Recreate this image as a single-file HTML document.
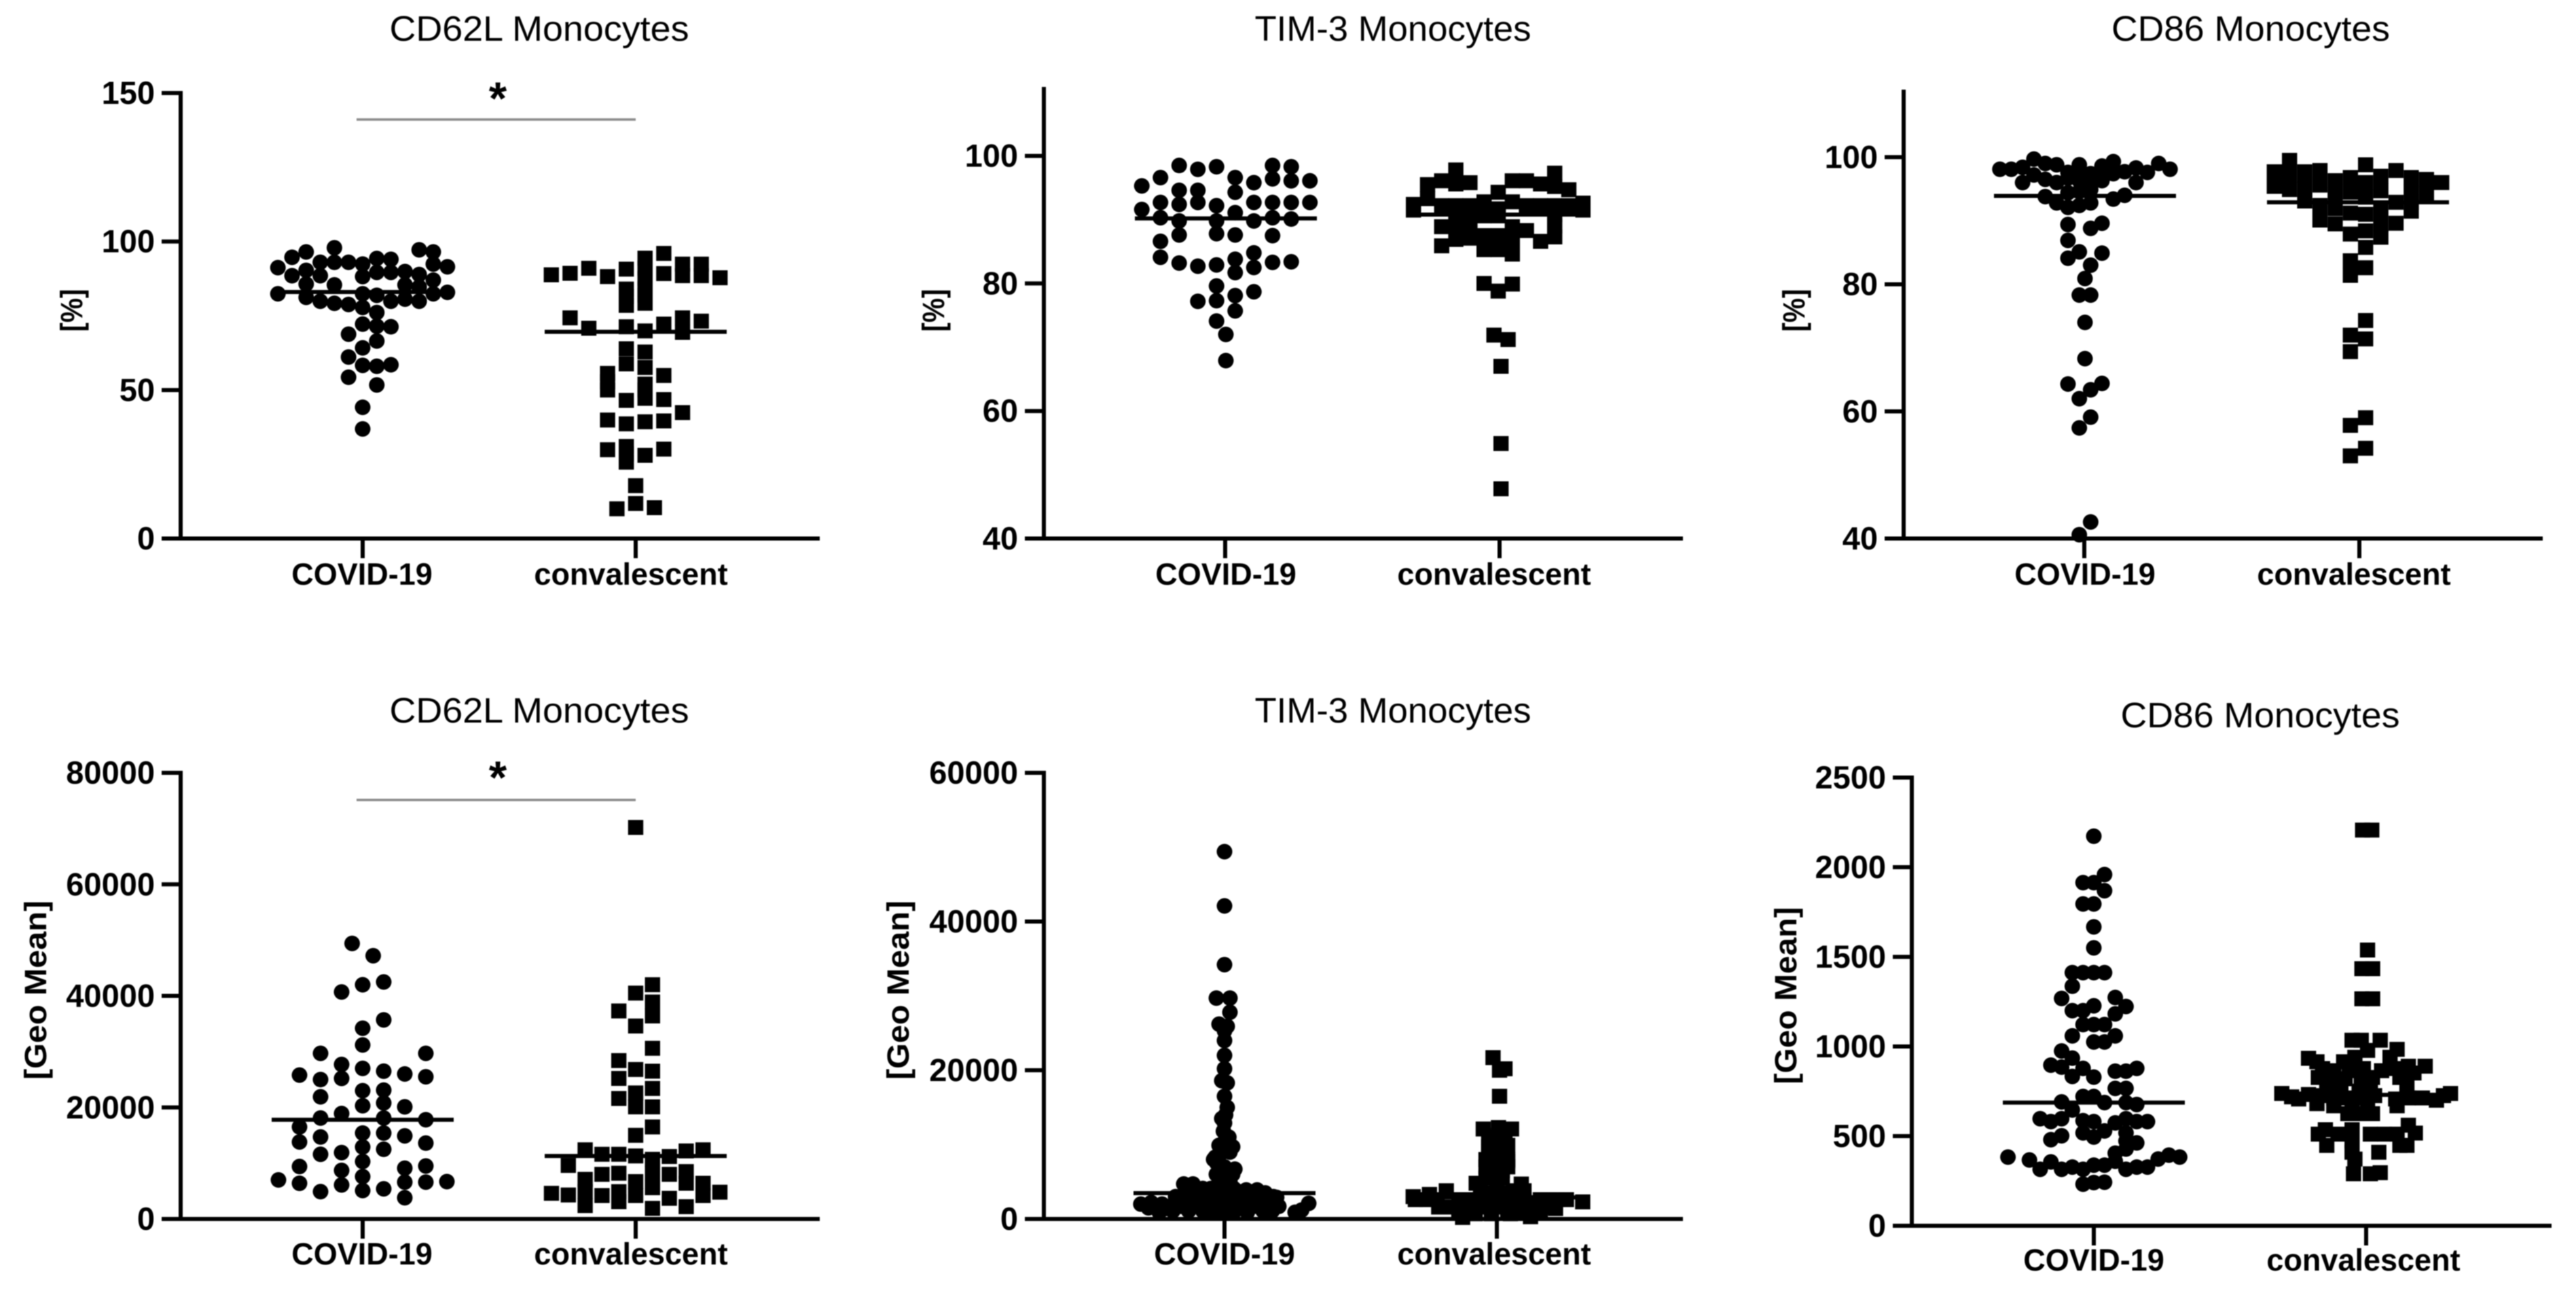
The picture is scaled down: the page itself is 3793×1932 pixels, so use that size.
<!DOCTYPE html>
<html lang="en">
<head>
<meta charset="utf-8">
<title>Monocyte marker dot plots</title>
<style>
  html, body { margin: 0; padding: 0; background: #fff; }
  svg { display: block; filter: blur(0.9px); }
  text { font-family: "Liberation Sans", sans-serif; fill: #000; }
</style>
</head>
<body>
<svg id="figure" xmlns="http://www.w3.org/2000/svg" width="3793" height="1932" viewBox="0 0 3793 1932"></svg>
<script>
const categories = ['COVID-19', 'convalescent'];

/* Panel 1: CD62L % */
const p1Ticks = [0, 50, 100, 150];
const p1Medians = [83, 69.6];
const p1CovidValues = [91.2,82.4, 94.7,88.5, 96.5,90.3,85.7,81.2, 93,88.5,79.9, 97.9,93,85.4,79.2, 93,78.8,68.8,61.1,54.3, 92.4,88.2,82.4,77.8,72.2,64.2,58.3,44.2,36.9, 94.3,89.6,81.9,76.1,71.5,66.5,58,51.7, 94,89.6,79.9,71.3,58.5, 89.9,85.4,80.6, 97.2,88.9,84.7,79.9, 96.5,92.4,87,82.4, 91.5,82.9];
const p1CovidLanes = [-6,-6, -5,-5, -4,-4,-4,-4, -3,-3,-3, -2,-2,-2,-2, -1,-1,-1,-1,-1, 0,0,0,0,0,0,0,0,0, 1,1,1,1,1,1,1,1, 2,2,2,2,2, 3,3,3, 4,4,4,4, 5,5,5,5, 6,6];
const p1ConvValues = [88.8, 89.3,74.3, 91,70.8, 88.2,55.6,52.8,50,39.9,29.9, 10, 90.7,84,81.5,78.5,71.3,63.9,58.8,46.5,38.6,31,28.5,25.7, 17.8,11.8, 94.4,91,87.5,84,82,79.2,69.9,62.8,57.6,52,50,47.2,39.3,28, 10.4, 96,89.2,72.2,54.9,46.8,39.6,30.1, 92.4,88.5,74.3,69.4,42.4, 92.4,88.5,73.2, 87.8];
const p1ConvLanes = [-4.5, -3.5,-3.5, -2.5,-2.5, -1.5,-1.5,-1.5,-1.5,-1.5,-1.5, -1, -.5,-.5,-.5,-.5,-.5,-.5,-.5,-.5,-.5,-.5,-.5,-.5, 0,0, .5,.5,.5,.5,.5,.5,.5,.5,.5,.5,.5,.5,.5,.5, 1, 1.5,1.5,1.5,1.5,1.5,1.5,1.5, 2.5,2.5,2.5,2.5,2.5, 3.5,3.5,3.5, 4.5];

/* Panel 2: TIM-3 % */
const p2Ticks = [40, 60, 80, 100];
const p2Medians = [90.2, 90.8];
const p2CovidValues = [95.3,91.6, 96.6,92.7,90.3,86.6,84.1, 98.5,94.6,92.4,89.8,87.6,83.2, 97.9,94.6,92.7,82.7,77.2, 98.3,92.2,89.8,87.8,82.9,79.6,77.3,74.1, 72,67.9, 96.6,94.3,91.1,87.6,83.8,81.7,78.1,75.7, 95.8,92.7,89.8,84.8,82.5,78.7, 98.5,96.4,92.7,90.3,87.5,83.3, 98.3,96.1,92.7,90.1,83.4, 96.1,92.7];
const p2CovidLanes = [-4.5,-4.5, -3.5,-3.5,-3.5,-3.5,-3.5, -2.5,-2.5,-2.5,-2.5,-2.5,-2.5, -1.5,-1.5,-1.5,-1.5,-1.5, -.5,-.5,-.5,-.5,-.5,-.5,-.5,-.5, 0,0, .5,.5,.5,.5,.5,.5,.5,.5, 1.5,1.5,1.5,1.5,1.5,1.5, 2.5,2.5,2.5,2.5,2.5,2.5, 3.5,3.5,3.5,3.5,3.5, 4.5,4.5];
const p2ConvValues = [92.4,91.5, 95.5,93.3, 96.1,92.2,88.9,85.9, 97.8,95.6,92.2,91.2,88.9,86.9, 95.8,92.2,90.8,89,87.1, 92.8,90.6,87.5,85.3,80, 94.3,91.7,90.6,87.5,85.3,78.8, 96.1,92.8,88.9,86.9,84.6,79.9, 96.1,92.2,88.3, 95.6,92.2,91.7,86.6, 97.3,95.2,92.2,90.8,89,87.3, 94.7,92.2, 92.6,91.5, 71.9,71.2,67,54.9,47.8];
const p2ConvLanes = [-6,-6, -5,-5, -4,-4,-4,-4, -3,-3,-3,-3,-3,-3, -2,-2,-2,-2,-2, -1,-1,-1,-1,-1, 0,0,0,0,0,0, 1,1,1,1,1,1, 2,2,2, 3,3,3,3, 4,4,4,4,4,4, 5,5, 6,6, -.3,.7,.2,.2,.2];

/* Panel 3: CD86 % */
const p3Ticks = [40, 60, 80, 100];
const p3Medians = [93.9, 92.9];
const p3CovidValues = [98.1, 98.1, 98.4,96, 99.7,97.2, 99,96.5,93.8, 98.8,96,92.8, 97.6,96.7,94.4,92.1,89.4,86.9,84.1,64.3, 98.8,97.4,96.3,94.6,92.4,85.1,78.3,62,57.4,40.6, 95.6,80.9,74,68.3, 97.4,96.5,94.9,92.8,88.8,83,78.3,63.4,59.1,42.6, 98.6,97.4,96.3,89.6,84.9,64.4, 99.3,97.4,93.4, 97.7,94, 98.3,96, 97.6, 99, 98.1];
const p3CovidLanes = [-7.5, -6.5, -5.5,-5.5, -4.5,-4.5, -3.5,-3.5,-3.5, -2.5,-2.5,-2.5, -1.5,-1.5,-1.5,-1.5,-1.5,-1.5,-1.5,-1.5, -.5,-.5,-.5,-.5,-.5,-.5,-.5,-.5,-.5,-.5, 0,0,0,0, .5,.5,.5,.5,.5,.5,.5,.5,.5,.5, 1.5,1.5,1.5,1.5,1.5,1.5, 2.5,2.5,2.5, 3.5,3.5, 4.5,4.5, 5.5, 6.5, 7.5];
const p3ConvValues = [97.7,95.4, 99.5,97.2,94.9, 97.7,95.4,93.1, 97.9,95.6,92.4,90.1, 96.3,94,91.9,89.5, 96.8,94.5,91.2,87.9,83.7,81.4,72,69.4,57.8,53, 98.8,96,93.7,91,88.4,85.8,82.6,74.3,71.4,59,54.2, 97,94.7,91.7,89.4,87.4, 97.9,92.9,89.6, 96.8,94.5,92.9,91.5, 96.5,94.2, 96];
const p3ConvLanes = [-5.5,-5.5, -4.5,-4.5,-4.5, -3.5,-3.5,-3.5, -2.5,-2.5,-2.5,-2.5, -1.5,-1.5,-1.5,-1.5, -.5,-.5,-.5,-.5,-.5,-.5,-.5,-.5,-.5,-.5, .5,.5,.5,.5,.5,.5,.5,.5,.5,.5,.5, 1.5,1.5,1.5,1.5,1.5, 2.5,2.5,2.5, 3.5,3.5,3.5,3.5, 4.5,4.5, 5.5];

/* Panel 4: CD62L geo mean */
const p4Ticks = [0, 20000, 40000, 60000, 80000];
const p4Medians = [17800, 11300];
const p4CovidValues = [7000, 25800,16500,13800,9400,6400, 29700,25000,21900,18100,14700,11600,4900, 40700,27700,25200,18900,11900,8700,6100, 49400, 42000,34200,31200,27000,23000,20300,15400,12900,10300,7600,5100, 47200, 42500,35700,26500,23100,20800,18100,15400,12500,5400, 26000,20100,14900,9100,6600,3800, 29700,25500,17800,13600,9500,6600, 6700];
const p4CovidLanes = [-4, -3,-3,-3,-3,-3, -2,-2,-2,-2,-2,-2,-2, -1,-1,-1,-1,-1,-1,-1, -.5, 0,0,0,0,0,0,0,0,0,0,0, .5, 1,1,1,1,1,1,1,1,1, 2,2,2,2,2,2, 3,3,3,3,3,3, 4];
const p4ConvValues = [4600, 9600,4300, 12400,7100,4900,2400, 11600,8000,4200, 37300,28400,25200,21600,11600,8200,4900,3100, 70200,40500,34600,26800,22600,20100,15000,11300,6700,4200, 42000,38900,36400,30600,26500,23400,20100,16500,10700,8200,5600,1900, 11200,8000,3700, 12200,8500,6400,2200, 12400,6400,4200, 4800];
const p4ConvLanes = [-5, -4,-4, -3,-3,-3,-3, -2,-2,-2, -1,-1,-1,-1,-1,-1,-1,-1, 0,0,0,0,0,0,0,0,0,0, 1,1,1,1,1,1,1,1,1,1,1,1, 2,2,2, 3,3,3,3, 4,4,4, 5];

/* Panel 5: TIM-3 geo mean */
const p5Ticks = [0, 20000, 40000, 60000];
const p5Medians = [3470, 2900];
const p5CovidValues = [49400,42100,34200,29700,29700,27800,26200,25900,25300,22000,20200,18600,18300,16500,14000,12900,11800,9900,9700,10500,8300,7500,6700,6700,5600,4800,
  2000,1500,900,1400,2100,4700,4700,4100,4100,2900,3200,1100,1100,1100,900,2600,2600,3500,4700,5900,6600,6800,8000,2600,1100,2600,4100,3800,3700,3500,2300,2300,2300,2900,900,900,1100,1100,1200,2100,900,1800,2000,2200,
  1700,1700,1700,1700,1700,1700,1700,1700,1700,1700,1700,1700,
  3000,3000,3000,3000,3000,3000,3000,3000,3000,3000,
  3900,3900,3900,3900,3900,3900,3900,
  6000,6000,5000,5000,7000,8500,9000,11000,13500,15000,24000];
const p5CovidLanes = [0,0,0,-1.5,1,1,-1,.5,0,0,0,-.5,.5,0,.2,0,-.2,-1,1.5,.1,-1.7,-1.4,.1,1.9,.3,.3,
  -15.4,-14,-12,-10.8,-8.7,-7.5,-5.8,-4,-2.5,-6.2,-7.5,-9.5,-6.6,-4,-2,-2.9,-4.5,-.4,0,.5,1.7,-.8,-2,0,0,1.7,1.7,3.8,5.5,7.5,3.4,5.9,8,9.6,1.7,4.2,7.1,8.8,14.2,15.5,13,9.6,-11.5,-13.5,
  -12,-10,-8,-6,-4,-2,0,2,4,6,8,10,
  -9,-7,-5,-3,-1,1,3,5,7,9,
  -6,-4,-2,0,2,4,6,
  -1.5,1.5,-1,1,0,-1,1,.8,-.5,.5,0];
const p5ConvValues = [21700,20200,20000,16500,12100,12100,12300,11300,9700,9900,10000,8000,8000,8600,7500,6500,6500,
  3000,3300,3800,1600,1600,200,2600,4800,7800,7800,6200,3500,1600,4300,2000,3500,4700,2800,300,2200,2600,2600,2300,1600,1400,700,700,700,
  2600,2600,2600,2600,2600,2600,2600,2600,2600,2600,2600,
  1600,1600,1600,1600,1600,1600,1600,1600,
  900,900,900,900,900,900,
  3800,3800,3800,3800,
  5500,5500,
  7000,7000,7000,9000,9000,11000,11000];
const p5ConvLanes = [-.7,1.5,.5,.5,-2.5,2.7,.3,.3,-1.5,2,.2,-2,2,.2,.2,-1,1,
  -15.4,-12.4,-9.3,-10.7,-8.4,-6.3,-5.5,-3.8,-1.75,2,.3,-2.6,-2.6,0,0,2.4,4.5,4.5,6.2,6.6,9.5,12.8,15.8,7.8,10.8,-1,2.5,-4,
  -15,-13,-11,-7,-4,-1,1,3,5,8,11,
  -9,-6,-3,0,3,6,9,10,
  -7,-4,-1,2,5,8,
  -3,0,3,5,
  -2,1,
  -2,0,2,-1.5,1.5,-1.5,1.5];

/* Panel 6: CD86 geo mean */
const p6Ticks = [0, 500, 1000, 1500, 2000, 2500];
const p6Medians = [687, 730];
const p6CovidValues = [383, 367, 597,315, 896,581,480,356, 1268,975,885,691,597,502,315, 1412,1336,1200,1059,935,833,646,327, 1914,1795,1412,1200,1122,878,721,586,518,315,232, 2173,1914,1795,1667,1550,1412,1227,1122,1025,829,721,581,495,338,241, 1959,1869,1412,1122,1025,687,529,338,243, 1273,1182,1059,862,766,574,405,360, 1223,862,766,687,597,518,473,428,315, 878,676,581,462,327, 581,327, 372, 394, 383];
const p6CovidLanes = [-8, -6, -5,-5, -4,-4,-4,-4, -3,-3,-3,-3,-3,-3,-3, -2,-2,-2,-2,-2,-2,-2,-2, -1,-1,-1,-1,-1,-1,-1,-1,-1,-1,-1, 0,0,0,0,0,0,0,0,0,0,0,0,0,0,0, 1,1,1,1,1,1,1,1,1, 2,2,2,2,2,2,2,2, 3,3,3,3,3,3,3,3,3, 4,4,4,4,4, 5,5, 6, 7, 8];
const p6ConvValues = [2207,2207,1538,1434,1434,1266,1266,
  1035,1035,1035,984,978,934,915,915,940,940,890,890,877,865,865,877,865,877,827,814,820,814,827,827,852,776,751,751,776,789,738,719,732,726,713,713,713,726,707,713,713,700,726,738,707,681,669,669,675,669,625,625,625,536,511,511,536,561,517,511,511,511,448,473,410,410,448,448,372,290,290,296];
const p6ConvLanes = [-.25,.4,.1,-.3,.46,-.3,.46,
  -1,-.35,1,2.2,.1,-4.1,-3.5,-1.6,-.8,1.7,3,4.2,-3.1,-2.3,-1.2,-.2,1.1,2.1,-3.4,-2.5,-1.5,-.35,.45,2.4,3.4,-2.8,-1.8,-.5,.3,2.9,-6,-5.3,-4.1,-3.1,-2.3,-1.3,-.35,.6,2.1,3,4,5,5.5,6,-4.8,-3.5,-2.3,-1,.1,2.2,-1.3,-.35,.45,-2.9,-3.4,-2,-1,3,3.5,.3,1.3,2.2,-2.8,-1,-1,.9,2.4,2.9,-.8,-.9,.3,1];

const SVG_NS = 'http://www.w3.org/2000/svg';
const figure = document.getElementById('figure');

function svgEl(parent, tag, attrs) {
  const el = document.createElementNS(SVG_NS, tag);
  for (const key in attrs) el.setAttribute(key, attrs[key]);
  parent.appendChild(el);
  return el;
}

function drawPanel(p) {
  const group = svgEl(figure, 'g', {});
  
  

  const yScale = v => p.y0 - (v - p.min) * (p.y0 - p.yTop) / (p.max - p.min);

  const title = svgEl(group, 'text', { x: p.titleX, y: p.titleY + 17, 'text-anchor': 'middle', 'font-size': 52, textLength: p.titleW, lengthAdjust: 'spacingAndGlyphs' });
  title.textContent = p.title;
  
  

  const yTitle = svgEl(group, 'text', { transform: `translate(${p.yTitleX},${p.yTitleY}) rotate(-90)`, 'text-anchor': 'middle', 'font-size': 45, 'font-weight': 'bold', y: 16, textLength: p.yTitleW, lengthAdjust: 'spacingAndGlyphs' });
  yTitle.textContent = p.yTitle;
  
  

  const yAxis = svgEl(group, 'line', { x1: p.axisX, x2: p.axisX, y1: p.yTop - 3, y2: p.y0 + 3, stroke: '#000', 'stroke-width': 6 });
  
  

  const xAxis = svgEl(group, 'line', { x1: p.axisX - 28, x2: p.xRight, y1: p.y0, y2: p.y0, stroke: '#000', 'stroke-width': 6 });
  
  

  p.ticks.forEach(t => {
    const tick = svgEl(group, 'line', { x1: p.axisX - 28, x2: p.axisX, y1: yScale(t), y2: yScale(t), stroke: '#000', 'stroke-width': 6 });
    
    
    const label = svgEl(group, 'text', { x: p.axisX - 38, y: yScale(t) + 16, 'text-anchor': 'end', 'font-size': 47, 'font-weight': 'bold' });
    label.textContent = String(t);
    
    
  });

  categories.forEach((c, i) => {
    const tick = svgEl(group, 'line', { x1: p.catX[i], x2: p.catX[i], y1: p.y0, y2: p.y0 + 29, stroke: '#000', 'stroke-width': 6 });
    
    
    const label = svgEl(group, 'text', { x: p.labelX[i], y: p.labelY + 16, 'text-anchor': 'middle', 'font-size': 45, 'font-weight': 'bold' });
    label.textContent = c;
    
    
  });

  p.covid.values.forEach((v, i) => {
    const dot = svgEl(group, 'circle', { cx: p.covid.center + p.covidLanes[i] * p.covid.step, cy: yScale(v), r: 11.5, fill: '#000' });
    
    
  });

  p.conv.values.forEach((v, i) => {
    const sq = svgEl(group, 'rect', { x: p.conv.center + p.convLanes[i] * p.conv.step - 11.2, y: yScale(v) - 11, width: 22.4, height: 22, fill: '#000' });
    
    
  });

  p.medians.forEach((m, i) => {
    const center = i === 0 ? p.covid.center : p.conv.center;
    const line = svgEl(group, 'line', { x1: center - 134, x2: center + 134, y1: yScale(m), y2: yScale(m), stroke: '#000', 'stroke-width': 6 });
    
    
  });

  if (p.sig) {
    const bar = svgEl(group, 'line', { x1: p.sig.x1, x2: p.sig.x2, y1: p.sig.y, y2: p.sig.y, stroke: '#8a8a8a', 'stroke-width': 3.5 });
    
    
    const star = svgEl(group, 'text', { x: p.sig.starX, y: p.sig.starY, 'text-anchor': 'middle', 'font-size': 68, 'font-weight': 'bold' });
    star.textContent = '*';
    
    
  }
}

drawPanel({
  name: 'cd62l-percent-panel', title: 'CD62L Monocytes', titleX: 794, titleY: 43, titleW: 441,
  yTitle: '[%]', yTitleX: 105, yTitleY: 457, yTitleW: 63,
  axisX: 266, xRight: 1207, y0: 793, yTop: 137, min: 0, max: 150, ticks: p1Ticks,
  catX: [534, 936], labelX: [533, 929], labelY: 845,
  covid: { values: p1CovidValues, center: 534, step: 20.8 }, covidLanes: p1CovidLanes,
  conv: { values: p1ConvValues, center: 936, step: 27.6 }, convLanes: p1ConvLanes,
  medians: p1Medians,
  sig: { x1: 525, x2: 936, y: 176, starX: 733, starY: 168 }
});

drawPanel({
  name: 'tim3-percent-panel', title: 'TIM-3 Monocytes', titleX: 2051, titleY: 43, titleW: 407,
  yTitle: '[%]', yTitleX: 1374, yTitleY: 457, yTitleW: 63,
  axisX: 1537, xRight: 2478, y0: 793, yTop: 131, min: 40, max: 110.5, ticks: p2Ticks,
  catX: [1804, 2208], labelX: [1805, 2200], labelY: 845,
  covid: { values: p2CovidValues, center: 1805, step: 27.5 }, covidLanes: p2CovidLanes,
  conv: { values: p2ConvValues, center: 2206, step: 20.8 }, convLanes: p2ConvLanes,
  medians: p2Medians
});

drawPanel({
  name: 'cd86-percent-panel', title: 'CD86 Monocytes', titleX: 3314, titleY: 43, titleW: 410,
  yTitle: '[%]', yTitleX: 2641, yTitleY: 457, yTitleW: 63,
  axisX: 2803, xRight: 3744, y0: 793, yTop: 135, min: 40, max: 110.3, ticks: p3Ticks,
  catX: [3069, 3474], labelX: [3070, 3466], labelY: 845,
  covid: { values: p3CovidValues, center: 3070, step: 16.7 }, covidLanes: p3CovidLanes,
  conv: { values: p3ConvValues, center: 3472, step: 22.4 }, convLanes: p3ConvLanes,
  medians: p3Medians
});

drawPanel({
  name: 'cd62l-geomean-panel', title: 'CD62L Monocytes', titleX: 794, titleY: 1047, titleW: 441,
  yTitle: '[Geo Mean]', yTitleX: 52, yTitleY: 1458, yTitleW: 264,
  axisX: 266, xRight: 1207, y0: 1795, yTop: 1138, min: 0, max: 80000, ticks: p4Ticks,
  catX: [534, 936], labelX: [533, 929], labelY: 1846,
  covid: { values: p4CovidValues, center: 534, step: 31 }, covidLanes: p4CovidLanes,
  conv: { values: p4ConvValues, center: 936, step: 24.8 }, convLanes: p4ConvLanes,
  medians: p4Medians,
  sig: { x1: 525, x2: 936, y: 1178, starX: 733, starY: 1168 }
});

drawPanel({
  name: 'tim3-geomean-panel', title: 'TIM-3 Monocytes', titleX: 2051, titleY: 1047, titleW: 407,
  yTitle: '[Geo Mean]', yTitleX: 1322, yTitleY: 1458, yTitleW: 264,
  axisX: 1537, xRight: 2478, y0: 1795, yTop: 1138, min: 0, max: 60000, ticks: p5Ticks,
  catX: [1803, 2204], labelX: [1803, 2200], labelY: 1846,
  covid: { values: p5CovidValues, center: 1803, step: 8 }, covidLanes: p5CovidLanes,
  conv: { values: p5ConvValues, center: 2204, step: 8 }, convLanes: p5ConvLanes,
  medians: p5Medians
});

drawPanel({
  name: 'cd86-geomean-panel', title: 'CD86 Monocytes', titleX: 3328, titleY: 1054, titleW: 411,
  yTitle: '[Geo Mean]', yTitleX: 2629, yTitleY: 1466, yTitleW: 261,
  axisX: 2815, xRight: 3757, y0: 1805, yTop: 1145, min: 0, max: 2500, ticks: p6Ticks,
  catX: [3083, 3484], labelX: [3083, 3480], labelY: 1855,
  covid: { values: p6CovidValues, center: 3083, step: 15.8 }, covidLanes: p6CovidLanes,
  conv: { values: p6ConvValues, center: 3484, step: 20.7 }, convLanes: p6ConvLanes,
  medians: p6Medians
});
</script>
</body>
</html>
